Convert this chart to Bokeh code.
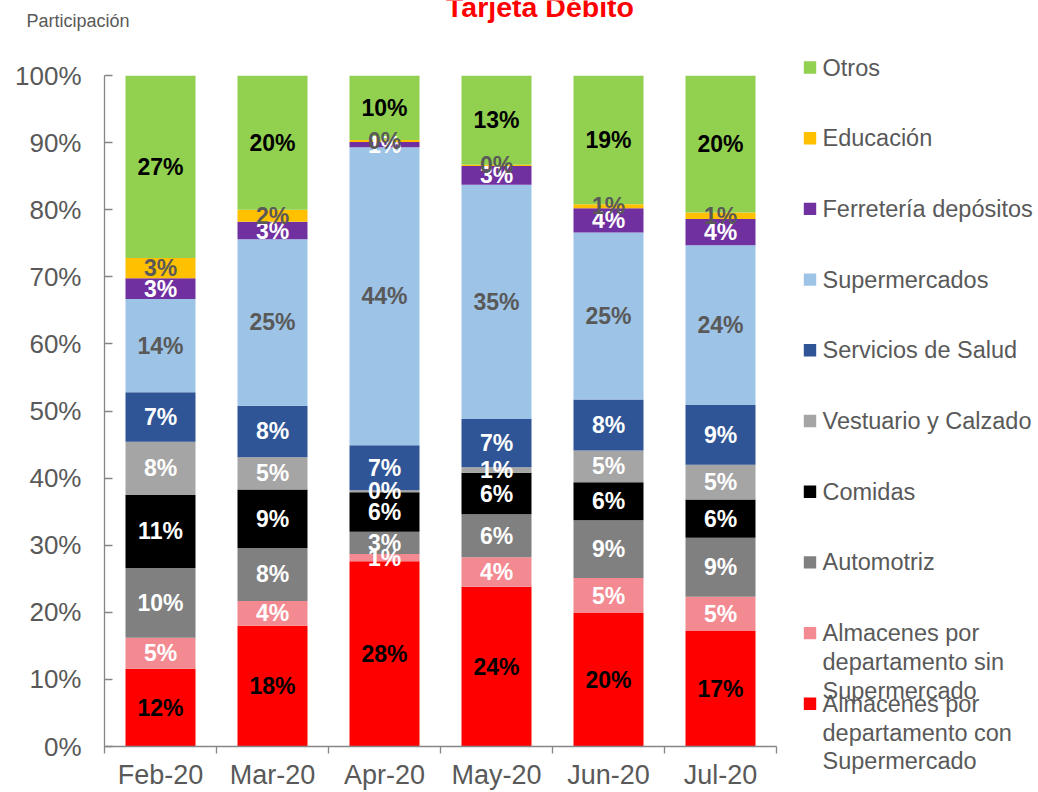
from bokeh.plotting import figure
from bokeh.layouts import column, row
from bokeh.models import (ColumnDataSource, FixedTicker, PrintfTickFormatter, Range1d)
from bokeh.core.properties import value
from bokeh.embed import file_html
from bokeh.resources import INLINE

# ---------------- data ----------------
months = ["Feb-20", "Mar-20", "Apr-20", "May-20", "Jun-20", "Jul-20"]

series_names = [
    "Almacenes por departamento con Supermercado",
    "Almacenes por departamento sin Supermercado",
    "Automotriz",
    "Comidas",
    "Vestuario y Calzado",
    "Servicios de Salud",
    "Supermercados",
    "Ferretería depósitos",
    "Educación",
    "Otros",
]
legend_lines = [
    ["Almacenes por", "departamento con", "Supermercado"],
    ["Almacenes por", "departamento sin", "Supermercado"],
    ["Automotriz"],
    ["Comidas"],
    ["Vestuario y Calzado"],
    ["Servicios de Salud"],
    ["Supermercados"],
    ["Ferretería depósitos"],
    ["Educación"],
    ["Otros"],
]

alm_con = [11.6, 18.0, 27.6, 23.8, 19.9, 17.2]
alm_sin = [4.6, 3.7, 1.1, 4.4, 5.2, 5.1]
automotriz = [10.4, 7.9, 3.3, 6.4, 8.6, 8.8]
comidas = [10.9, 8.7, 5.9, 6.2, 5.7, 5.7]
vestuario = [7.9, 4.8, 0.3, 0.8, 4.7, 5.2]
salud = [7.4, 7.7, 6.7, 7.2, 7.6, 8.9]
supermercados = [13.9, 24.8, 44.4, 34.9, 24.9, 23.8]
ferreteria = [3.1, 2.6, 0.8, 2.8, 3.6, 3.9]
educacion = [3.0, 1.8, 0.3, 0.2, 0.6, 1.0]
otros = [27.2, 20.0, 9.6, 13.3, 19.2, 20.4]

series_values = [alm_con, alm_sin, automotriz, comidas, vestuario, salud,
                 supermercados, ferreteria, educacion, otros]

y_ticks = [0, 10, 20, 30, 40, 50, 60, 70, 80, 90, 100]

title_text = "Tarjeta Débito"
ylabel_text = "Participación"

# ---------------- styles ----------------
colors = ["#FF0000", "#F38A92", "#808080", "#000000", "#A5A5A5", "#2F5597",
          "#9DC3E6", "#7030A0", "#FFC000", "#92D050"]
label_colors = ["#000000", "#FFFFFF", "#FFFFFF", "#FFFFFF", "#FFFFFF", "#FFFFFF",
                "#595959", "#FFFFFF", "#595959", "#000000"]
FONT = "Liberation Sans"
GRAY_TXT = "#595959"
AXIS_CLR = "#868686"

TOTAL_W, TOTAL_H = 1036, 792
TOP_H = 40
MAIN_W = 778
LEG_W = TOTAL_W - MAIN_W
BODY_H = TOTAL_H - TOP_H

# ---------------- top strip (title + y caption) ----------------
top = figure(width=TOTAL_W, height=TOP_H, output_backend="svg", toolbar_location=None,
             title=None, frame_align=False,
             x_range=Range1d(0, TOTAL_W), y_range=Range1d(TOP_H, 0),
             x_axis_type=None, y_axis_type=None,
             min_border=0, min_border_left=0, min_border_right=0,
             min_border_top=0, min_border_bottom=0)
top.outline_line_color = None
top.text(x=[539.5], y=[6], text=[title_text], text_color="#FF0000",
         text_font=value(FONT), text_font_style="bold", text_font_size=value("28.5px"),
         text_align="center", text_baseline="middle")
top.text(x=[26], y=[20], text=[ylabel_text], text_color=GRAY_TXT,
         text_font=value(FONT), text_font_size=value("18px"),
         text_align="left", text_baseline="middle")

# ---------------- main chart ----------------
FL = 104
FR = 776
FT = 75 - TOP_H
FB = 746 - TOP_H

p = figure(width=MAIN_W, height=BODY_H, output_backend="svg", toolbar_location=None,
           title=None, frame_align=False,
           x_range=Range1d(0, len(months)), y_range=Range1d(0, 100),
           min_border_left=FL, min_border_right=MAIN_W - FR,
           min_border_top=FT, min_border_bottom=BODY_H - FB)
p.outline_line_color = None
p.xgrid.visible = False
p.ygrid.visible = False

bar_w = 0.625
centers = [i + 0.5 for i in range(len(months))]
bottom = [0.0] * len(months)
lab_x, lab_y, lab_t, lab_c = [], [], [], []
for vals, col, lcol in zip(series_values, colors, label_colors):
    top_vals = [b + v for b, v in zip(bottom, vals)]
    src = ColumnDataSource(dict(x=centers, bottom=bottom, top=top_vals))
    p.vbar(x="x", bottom="bottom", top="top", width=bar_w, source=src,
           fill_color=col, line_color=None)
    for xc, b, v in zip(centers, bottom, vals):
        lab_x.append(xc)
        lab_y.append(b + v / 2.0)
        lab_t.append(f"{v:.0f}%")
        lab_c.append(lcol)
    bottom = top_vals

tsrc = ColumnDataSource(dict(x=lab_x, y=lab_y, text=lab_t, color=lab_c))
p.text(x="x", y="y", text="text", source=tsrc, text_color="color",
       text_font=value(FONT), text_font_style="bold", text_font_size=value("23px"),
       text_align="center", text_baseline="middle")

xa = p.xaxis[0]
xa.ticker = FixedTicker(ticks=centers, minor_ticks=list(range(len(months) + 1)))
xa.major_label_overrides = {c: m for c, m in zip(centers, months)}
xa.major_tick_in = 0
xa.major_tick_out = 0
xa.minor_tick_in = 0
xa.minor_tick_out = 7
xa.minor_tick_line_color = AXIS_CLR
xa.axis_line_color = AXIS_CLR
xa.axis_line_width = 1.3
xa.minor_tick_line_width = 1.3
xa.major_label_text_font = FONT
xa.major_label_text_font_size = "27px"
xa.major_label_text_color = GRAY_TXT
xa.major_label_standoff = 6

ya = p.yaxis[0]
ya.ticker = FixedTicker(ticks=y_ticks, minor_ticks=[])
ya.formatter = PrintfTickFormatter(format="%d%%")
ya.major_tick_in = 8
ya.major_tick_out = 0
ya.minor_tick_in = 0
ya.minor_tick_out = 0
ya.axis_line_color = AXIS_CLR
ya.axis_line_width = 1.3
ya.major_tick_line_color = AXIS_CLR
ya.major_tick_line_width = 1.3
ya.major_label_text_font = FONT
ya.major_label_text_font_size = "26px"
ya.major_label_text_color = GRAY_TXT
ya.major_label_standoff = 23

# ---------------- legend panel ----------------
leg = figure(width=LEG_W, height=BODY_H, output_backend="svg", toolbar_location=None,
             title=None, frame_align=False,
             x_range=Range1d(MAIN_W, TOTAL_W), y_range=Range1d(TOTAL_H, TOP_H),
             x_axis_type=None, y_axis_type=None,
             min_border=0, min_border_left=0, min_border_right=0,
             min_border_top=0, min_border_bottom=0)
leg.outline_line_color = None

LEG_Y0 = 67.0      # centre of the first entry (screen px)
LEG_STEP = 70.7    # distance between entries
LINE_STEP = 28.8   # distance between wrapped lines
SW_X = 803.3
SW = 12.4
TXT_X = 822

sw_x, sw_y, sw_c = [], [], []
t_x, t_y, t_t = [], [], []
order = list(range(len(series_names) - 1, -1, -1))   # Otros first
for pos, k in enumerate(order):
    cy = LEG_Y0 + pos * LEG_STEP
    sw_x.append(SW_X + SW / 2)
    sw_y.append(cy)
    sw_c.append(colors[k])
    for j, line in enumerate(legend_lines[k]):
        t_x.append(TXT_X)
        t_y.append(cy + j * LINE_STEP)
        t_t.append(line)

leg.rect(x=sw_x, y=sw_y, width=SW, height=SW, fill_color=sw_c, line_color=None)
leg.text(x=t_x, y=t_y, text=t_t, text_color=GRAY_TXT, text_font=value(FONT),
         text_font_size=value("23.5px"), text_align="left", text_baseline="middle")

layout = column(top, row(p, leg))
open("out.html", "w").write(file_html(layout, INLINE))
